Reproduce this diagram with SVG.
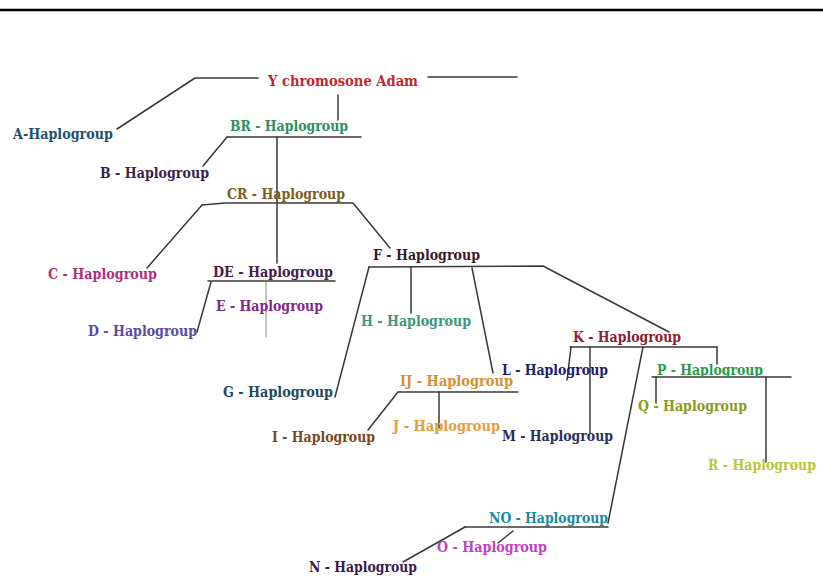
<svg xmlns="http://www.w3.org/2000/svg" width="823" height="584" viewBox="0 0 823 584">
<style>
.t{font-family:"DejaVu Serif","Liberation Serif",serif;font-weight:bold;font-size:14px}
.c line,.c polyline{stroke:#383838;stroke-width:1.5;fill:none;stroke-linecap:round;stroke-linejoin:round}
.c .thin{stroke:#8a8a8a;stroke-width:1}
</style>
<rect width="823" height="584" fill="#ffffff"/>
<line x1="0" y1="10" x2="823" y2="10" stroke="#000" stroke-width="2.5"/>
<g class="c" id="connectors">
<polyline points="117,129 195,78 258,78"/>
<line x1="428" y1="77" x2="517" y2="77"/>
<line x1="338" y1="95" x2="338" y2="120"/>
<line x1="227" y1="137" x2="361" y2="137"/>
<line x1="227" y1="137" x2="203" y2="166"/>
<line x1="277" y1="137" x2="277" y2="263"/>
<polyline points="202,205 225,203 353,203 390,248"/>
<line x1="202" y1="205" x2="147" y2="268"/>
<line x1="208" y1="281" x2="335" y2="281"/>
<line x1="211" y1="282" x2="197" y2="332"/>
<line class="thin" x1="266" y1="281" x2="266" y2="337"/>
<polyline points="369,267 543,266 669,332"/>
<line x1="369" y1="267" x2="335" y2="397"/>
<line x1="411" y1="267" x2="411" y2="313"/>
<line x1="472" y1="268" x2="493" y2="373"/>
<line x1="398" y1="392" x2="518" y2="392"/>
<line x1="398" y1="392" x2="368" y2="430"/>
<line x1="439" y1="392" x2="439" y2="428"/>
<line x1="570" y1="347" x2="717" y2="347"/>
<line x1="571" y1="347" x2="567" y2="380"/>
<line x1="590" y1="347" x2="590" y2="433"/>
<line x1="643" y1="347" x2="608" y2="523"/>
<line x1="717" y1="347" x2="717" y2="364"/>
<line x1="652" y1="377" x2="791" y2="377"/>
<line x1="656" y1="377" x2="656" y2="403"/>
<line x1="766" y1="377" x2="766" y2="462"/>
<line x1="465" y1="527" x2="608" y2="527"/>
<line x1="465" y1="527" x2="403" y2="562"/>
<line x1="513" y1="531" x2="498" y2="543"/>
</g>
<g id="Y"><text class="t" x="268" y="86" textLength="150" lengthAdjust="spacingAndGlyphs" fill="#c0282e">Y chromosone Adam</text></g>
<g id="A"><text class="t" x="13" y="139" textLength="100" lengthAdjust="spacingAndGlyphs" fill="#22506e">A-Haplogroup</text></g>
<g id="B"><text class="t" x="100" y="178" textLength="109" lengthAdjust="spacingAndGlyphs" fill="#3c1f4a">B - Haplogroup</text></g>
<g id="BR"><text class="t" x="230" y="131" textLength="118" lengthAdjust="spacingAndGlyphs" fill="#2f8f5f">BR - Haplogroup</text></g>
<g id="CR"><text class="t" x="227" y="199" textLength="118" lengthAdjust="spacingAndGlyphs" fill="#7a6020">CR - Haplogroup</text></g>
<g id="C"><text class="t" x="48" y="279" textLength="109" lengthAdjust="spacingAndGlyphs" fill="#b0307e">C - Haplogroup</text></g>
<g id="DE"><text class="t" x="213" y="277" textLength="120" lengthAdjust="spacingAndGlyphs" fill="#45204a">DE - Haplogroup</text></g>
<g id="E"><text class="t" x="216" y="311" textLength="107" lengthAdjust="spacingAndGlyphs" fill="#7d2a8a">E - Haplogroup</text></g>
<g id="D"><text class="t" x="88" y="336" textLength="109" lengthAdjust="spacingAndGlyphs" fill="#5a4aa0">D - Haplogroup</text></g>
<g id="F"><text class="t" x="373" y="260" textLength="107" lengthAdjust="spacingAndGlyphs" fill="#3a1a2a">F - Haplogroup</text></g>
<g id="H"><text class="t" x="361" y="326" textLength="110" lengthAdjust="spacingAndGlyphs" fill="#3a9a7a">H - Haplogroup</text></g>
<g id="G"><text class="t" x="223" y="397" textLength="110" lengthAdjust="spacingAndGlyphs" fill="#1f4a5e">G - Haplogroup</text></g>
<g id="IJ"><text class="t" x="400" y="386" textLength="113" lengthAdjust="spacingAndGlyphs" fill="#d8902e">IJ - Haplogroup</text></g>
<g id="I"><text class="t" x="272" y="442" textLength="103" lengthAdjust="spacingAndGlyphs" fill="#7a4a20">I - Haplogroup</text></g>
<g id="J"><text class="t" x="393" y="431" textLength="107" lengthAdjust="spacingAndGlyphs" fill="#e0a040">J - Haplogroup</text></g>
<g id="L"><text class="t" x="502" y="375" textLength="106" lengthAdjust="spacingAndGlyphs" fill="#1a1f6a">L - Haplogroup</text></g>
<g id="M"><text class="t" x="502" y="441" textLength="111" lengthAdjust="spacingAndGlyphs" fill="#2a2f5a">M - Haplogroup</text></g>
<g id="K"><text class="t" x="573" y="342" textLength="108" lengthAdjust="spacingAndGlyphs" fill="#8a2035">K - Haplogroup</text></g>
<g id="P"><text class="t" x="657" y="375" textLength="106" lengthAdjust="spacingAndGlyphs" fill="#2a9a4a">P - Haplogroup</text></g>
<g id="Q"><text class="t" x="638" y="411" textLength="109" lengthAdjust="spacingAndGlyphs" fill="#8a9a20">Q - Haplogroup</text></g>
<g id="R"><text class="t" x="708" y="470" textLength="108" lengthAdjust="spacingAndGlyphs" fill="#b8c830">R - Haplogroup</text></g>
<g id="NO"><text class="t" x="489" y="523" textLength="119" lengthAdjust="spacingAndGlyphs" fill="#1a8aa0">NO - Haplogroup</text></g>
<g id="O"><text class="t" x="437" y="552" textLength="110" lengthAdjust="spacingAndGlyphs" fill="#c040c0">O - Haplogroup</text></g>
<g id="N"><text class="t" x="309" y="572" textLength="108" lengthAdjust="spacingAndGlyphs" fill="#3a1a4a">N - Haplogroup</text></g>
</svg>
